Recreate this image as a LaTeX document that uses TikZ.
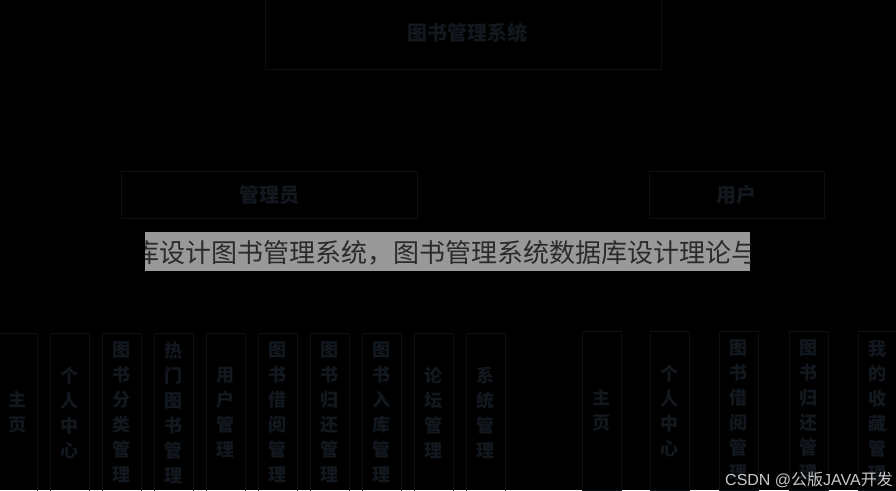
\documentclass[tikz,border=0pt]{standalone}
\usepackage{fontspec}
\setmainfont{Noto Sans CJK SC}
\newfontfamily\cjkf{Noto Sans CJK SC}
\newfontfamily\latinf{Liberation Sans}
\definecolor{bgc}{HTML}{000000}
\definecolor{boxline}{HTML}{0C1013}
\definecolor{txtc}{HTML}{12181E}
\definecolor{barfill}{HTML}{999999}
\definecolor{bartxt}{HTML}{2A2A2A}
\definecolor{wmtxt}{HTML}{C8C8C8}
\tikzset{
  topbox/.style={draw=boxline, line width=0.8pt, minimum width=396, minimum height=72, inner sep=0, text=txtc, font=\fontsize{20}{24}\selectfont\bfseries},
  rolebox/.style={draw=boxline, line width=0.8pt, minimum height=47, inner sep=0, text=txtc, font=\fontsize{20}{24}\selectfont\bfseries},
  colbox/.style={draw=boxline, line width=0.8pt, minimum width=39, minimum height=159, inner sep=0, align=center, text=txtc, font=\fontsize{18}{25}\selectfont\bfseries},
  bartext/.style={anchor=west, inner sep=0, text=bartxt, font=\fontsize{26}{30}\selectfont},
  wmark/.style={anchor=base west, inner sep=0, text=wmtxt, font=\fontsize{16}{19}\selectfont}
}
\begin{document}
\begin{tikzpicture}[x=1pt, y=-1pt]
\useasboundingbox (0,0) rectangle (896,490);
\clip (0,0) rectangle (896,490);
\fill[bgc] (0,0) rectangle (896,490);
% top
\node[topbox] (sys) at (463,33) {\hspace*{8pt}图书管理系统};
% roles
\node[rolebox, minimum width=296] (admin) at (269,194.5) {管理员};
\node[rolebox, minimum width=175] (user) at (736.5,194.5) {用户};
% admin modules
\node[colbox] (a1) at (17.5,412.5) {主\\页};
\node[colbox] (a2) at (69.5,412.5) {个\\人\\中\\心};
\node[colbox] (a3) at (121.5,412.5) {图\\书\\分\\类\\管\\理};
\node[colbox] (a4) at (173.5,412.5) {热\\门\\图\\书\\管\\理};
\node[colbox] (a5) at (225.5,412.5) {用\\户\\管\\理};
\node[colbox] (a6) at (277.5,412.5) {图\\书\\借\\阅\\管\\理};
\node[colbox] (a7) at (329.5,412.5) {图\\书\\归\\还\\管\\理};
\node[colbox] (a8) at (381.5,412.5) {图\\书\\入\\库\\管\\理};
\node[colbox] (a9) at (433.5,412.5) {论\\坛\\管\\理};
\node[colbox] (a10) at (485.5,412.5) {系\\统\\管\\理};
% user modules
\node[colbox] (u1) at (601.5,410.5) {主\\页};
\node[colbox] (u2) at (669.5,410.5) {个\\人\\中\\心};
\node[colbox] (u3) at (738.5,410.5) {图\\书\\借\\阅\\管\\理};
\node[colbox] (u4) at (808.5,410.5) {图\\书\\归\\还\\管\\理};
\node[colbox] (u5) at (877.5,410.5) {我\\的\\收\\藏\\管\\理};
% overlay bar
\fill[barfill] (145,232) rectangle (750,271);
\begin{scope}
\clip (145,232) rectangle (750,271);
\node[bartext] (bar) at (133,253) {库设计图书管理系统，图书管理系统数据库设计理论与};
\end{scope}
% watermark
\node[wmark] (wm) at (725,485) {{\latinf CSDN @}{\cjkf 公版}{\latinf JAVA}{\cjkf 开发}};
\end{tikzpicture}
\end{document}
